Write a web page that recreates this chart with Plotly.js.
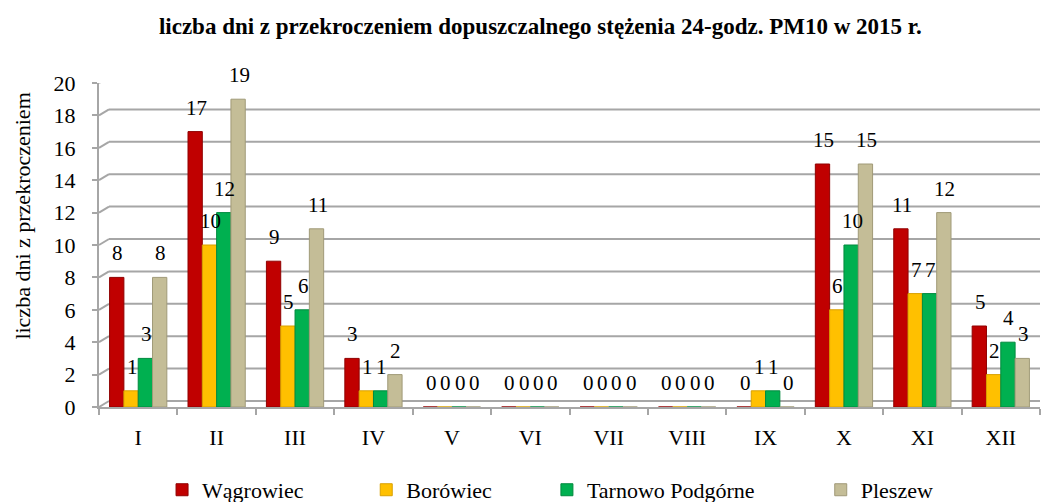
<!DOCTYPE html>
<html>
<head>
<meta charset="utf-8">
<script src="https://cdn.plot.ly/plotly-3.0.1.min.js"></script>
<style>html,body{margin:0;padding:0;background:#fff;}#chart{width:1043px;height:502px;}</style>
</head>
<body>
<div id="chart"></div>
<script>
const months = ['I','II','III','IV','V','VI','VII','VIII','IX','X','XI','XII'];
const seriesNames = ['Wągrowiec','Borówiec','Tarnowo Podgórne','Pleszew'];
const wagrowiec = [8,17,9,3,0,0,0,0,0,15,11,5];
const borowiec = [1,10,5,1,0,0,0,0,1,6,7,2];
const tarnowo = [3,12,6,1,0,0,0,0,1,10,7,4];
const pleszew = [8,19,11,2,0,0,0,0,0,15,12,3];
const yTicks = [0,2,4,6,8,10,12,14,16,18,20];
const titleText = 'liczba dni z przekroczeniem dopuszczalnego stężenia 24-godz. PM10 w 2015 r.';
const yTitleText = 'liczba dni z przekroczeniem';

const colors = ['#C00000','#FFC000','#00B050','#C4BD97'];
const lineColors = ['#900000','#D9A000','#008A3E','#A09A78'];
const legendX = [0.067, 0.284, 0.476, 0.767];

const allSeries = [wagrowiec, borowiec, tarnowo, pleszew];
const font = 'Liberation Serif';
const gridColor = '#A6A6A6';

const traces = allSeries.map((vals, i) => ({
  type: 'bar',
  name: seriesNames[i],
  x: months,
  y: vals,
  legend: i === 0 ? 'legend' : 'legend' + (i + 1),
  marker: {color: colors[i], line: {color: lineColors[i], width: 1}},
  hoverinfo: 'x+y+name'
}));

// data labels above each bar
const bargap = 0.27;
const axisPx = 1040 - 99;
const catPx = axisPx / months.length;
const barPx = catPx * (1 - bargap) / allSeries.length;
const annotations = [];
allSeries.forEach((vals, i) => {
  vals.forEach((v, j) => {
    annotations.push({
      x: months[j], y: v, xref: 'x', yref: 'y',
      text: String(v), showarrow: false,
      xshift: (i - 1.5) * barPx + 1, yshift: 24,
      yanchor: 'middle', xanchor: 'center',
      font: {family: font, size: 21, color: '#000'}
    });
  });
});
// y axis title (placed like the reference, above the plot centre)
annotations.push({
  xref: 'paper', yref: 'paper', x: -0.081, y: 0.59,
  xanchor: 'center', yanchor: 'middle', textangle: -90, showarrow: false,
  text: yTitleText, font: {family: font, size: 22, color: '#000'}
});

// pseudo-3D back-wall gridlines
const shapes = [];
yTicks.forEach(t => {
  shapes.push({
    type: 'line', xref: 'paper', x0: 0.0106, x1: 1,
    yref: 'y', ysizemode: 'pixel', yanchor: t, y0: 6, y1: 6,
    line: {color: gridColor, width: 2}, layer: 'below'
  });
  shapes.push({
    type: 'line', xref: 'paper', xsizemode: 'pixel', xanchor: 0, x0: 0, x1: 10,
    yref: 'y', ysizemode: 'pixel', yanchor: t, y0: 0, y1: 6,
    line: {color: gridColor, width: 2}, layer: 'below'
  });
});

const legendBase = {
  orientation: 'h', xanchor: 'left', y: -0.256, yanchor: 'middle',
  font: {family: font, size: 22, color: '#000'},
  itemwidth: 30, bgcolor: 'rgba(0,0,0,0)'
};
const layout = {
  width: 1043, height: 502,
  margin: {l: 99, r: 3, t: 83, b: 95, autoexpand: false},
  paper_bgcolor: '#fff', plot_bgcolor: '#fff',
  font: {family: font, size: 21, color: '#000'},
  title: {
    text: '<b>' + titleText + '</b>',
    font: {family: font, size: 23, color: '#000'},
    x: 0.518, xanchor: 'center', xref: 'container', y: 0.948, yanchor: 'middle', yref: 'container'
  },
  barmode: 'group',
  bargap: bargap,
  bargroupgap: 0,
  showlegend: true,
  legend: Object.assign({}, legendBase, {x: legendX[0]}),
  legend2: Object.assign({}, legendBase, {x: legendX[1]}),
  legend3: Object.assign({}, legendBase, {x: legendX[2]}),
  legend4: Object.assign({}, legendBase, {x: legendX[3]}),
  xaxis: {
    type: 'category',
    showgrid: false,
    showline: true, linecolor: gridColor, linewidth: 2,
    ticks: 'outside', tickson: 'boundaries', ticklen: 6, tickcolor: gridColor, tickwidth: 2,
    tickfont: {family: font, size: 22, color: '#000'},
    ticklabelstandoff: 10
  },
  yaxis: {
    range: [0, 20], tickvals: yTicks,
    showgrid: false,
    showline: true, linecolor: gridColor, linewidth: 2,
    ticks: 'outside', ticklen: 5, tickcolor: gridColor, tickwidth: 2,
    tickfont: {family: font, size: 22, color: '#000'},
    ticklabelstandoff: 12,
    zeroline: false
  },
  shapes: shapes,
  annotations: annotations
};

Plotly.newPlot('chart', traces, layout, {displayModeBar: false, staticPlot: true});
</script>
</body>
</html>
